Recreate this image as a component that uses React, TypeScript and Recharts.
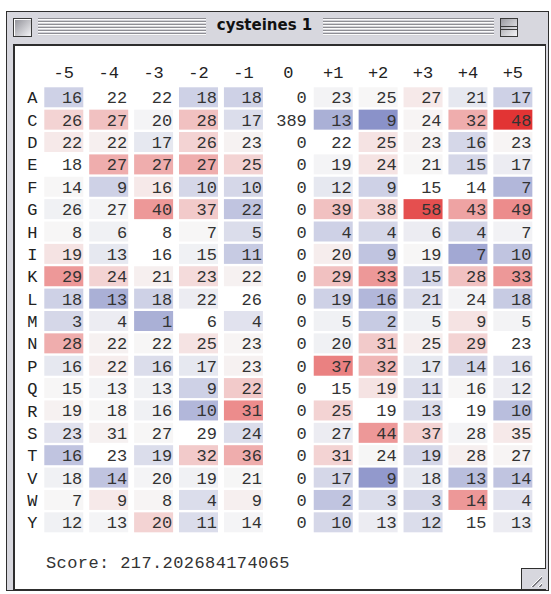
import React from 'react';
import { ScatterChart, Scatter, XAxis, YAxis } from 'recharts';

// Sequence positions relative to the cysteine, and residue rows
const positions = ['-5', '-4', '-3', '-2', '-1', '0', '+1', '+2', '+3', '+4', '+5'];
const residues = ['A', 'C', 'D', 'E', 'F', 'G', 'H', 'I', 'K', 'L', 'M', 'N', 'P', 'Q', 'R', 'S', 'T', 'V', 'W', 'Y'];

// Observed residue counts per position
const counts = [
  [16, 22, 22, 18, 18, 0, 23, 25, 27, 21, 17],
  [26, 27, 20, 28, 17, 389, 13, 9, 24, 32, 48],
  [22, 22, 17, 26, 23, 0, 22, 25, 23, 16, 23],
  [18, 27, 27, 27, 25, 0, 19, 24, 21, 15, 17],
  [14, 9, 16, 10, 10, 0, 12, 9, 15, 14, 7],
  [26, 27, 40, 37, 22, 0, 39, 38, 58, 43, 49],
  [8, 6, 8, 7, 5, 0, 4, 4, 6, 4, 7],
  [19, 13, 16, 15, 11, 0, 20, 9, 19, 7, 10],
  [29, 24, 21, 23, 22, 0, 29, 33, 15, 28, 33],
  [18, 13, 18, 22, 26, 0, 19, 16, 21, 24, 18],
  [3, 4, 1, 6, 4, 0, 5, 2, 5, 9, 5],
  [28, 22, 22, 25, 23, 0, 20, 31, 25, 29, 23],
  [16, 22, 16, 17, 23, 0, 37, 32, 17, 14, 16],
  [15, 13, 13, 9, 22, 0, 15, 19, 11, 16, 12],
  [19, 18, 16, 10, 31, 0, 25, 19, 13, 19, 10],
  [23, 31, 27, 29, 24, 0, 27, 44, 37, 28, 35],
  [16, 23, 19, 32, 36, 0, 31, 24, 19, 28, 27],
  [18, 14, 20, 19, 21, 0, 17, 9, 18, 13, 14],
  [7, 9, 8, 4, 9, 0, 2, 3, 3, 14, 4],
  [12, 13, 20, 11, 14, 0, 10, 13, 12, 15, 13],
];

// Over/under-representation per cell, -10 (blue) .. +10 (red)
const tints = [
  [-4, 0, 0, -4, -4, 0, -0.7, 0.3, 1.5, -2, -4],
  [3, 4, -0.5, 4, -3, 0, -6.5, -8.5, 0.5, 5, 10],
  [1.5, 1, -2, 3, 0.7, 0, 0, 2, 0.7, -3.5, 0.5],
  [0, 5, 5, 5, 3, 0, -0.5, 2, 0.3, -3.5, -1.5],
  [0.3, -4, 1.5, -3.5, -3.5, 0, -2, -4, 0, 0, -6],
  [-1, -0.5, 6, 3.5, -5, 0, 4, 3, 9, 5.5, 6.5],
  [0.3, -1, 0, 0.3, -3, 0, -4, -3.5, -1.5, -3.5, -0.8],
  [2, -2, 0, -1, -4.5, 0, 1.2, -5, 0.3, -7, -5],
  [6, 3, 1, 2.5, 0.8, 0, 4, 6, -3.5, 4, 6],
  [-4, -6.5, -4, -1.5, 0, 0, -4, -6, -3, -0.7, -4.5],
  [-3.5, -1.5, -6.5, 0, -2.5, 0, -1, -4.5, -1, 2, -0.7],
  [5, 0.8, 0.3, 2, 0.5, 0, -1, 3.5, 1.2, 3, 0],
  [-2, 1.2, -3, -2, 0.8, 0, 7, 4.5, -2, -3.5, -2.5],
  [0.3, -0.5, -1, -4, 3.5, 0, 0, 2, -3, 0.3, -1.5],
  [0.8, 0.3, -1, -6, 6.5, 0, 3, 0, -3, 0, -5.5],
  [-2.5, 0.8, 0.3, 0, -3, 0, -1.5, 6, 3, -0.5, 1.5],
  [-5, 0, -3, 3.5, 5, 0, 3, -0.3, -3.5, 1, 0.5],
  [-1, -5, -0.5, -1, -0.3, 0, -3.5, -8, -2, -5.5, -5],
  [0.3, 1.5, 0.5, -3, 1, 0, -5, -3, -3.5, 6, -2.5],
  [-1, -0.5, 3, -3, -0.5, 0, -3.5, -1.5, -3, 0, -1.5],
];

const score = '217.202684174065';

const cells = residues.flatMap((res, r) =>
  positions.map((pos, c) => ({ col: c, row: r, count: counts[r][c], tint: tints[r][c] }))
);

const MONO = '"Liberation Mono", "DejaVu Sans Mono", monospace';
const FRAME = '#d7d7de';
const EDGE = '#2e2e2e';

const NEUTRAL = [247, 247, 247];
const RED = [226, 52, 52];
const BLUE = [112, 122, 190];

function cellFill(t: number) {
  const end = t > 0 ? RED : BLUE;
  const f = Math.pow(Math.min(Math.abs(t), 10) / 10, t > 0 ? 1.4 : 1.3);
  const c = NEUTRAL.map((v, i) => Math.round(v + (end[i] - v) * f));
  return `rgb(${c[0]},${c[1]},${c[2]})`;
}

const CellShape = (props: any) => {
  const { cx, cy, payload } = props;
  const w = 39;
  const h = 20;
  return (
    <g>
      {payload.tint !== 0 && (
        <rect x={cx - w / 2} y={cy - h / 2} width={w} height={h} fill={cellFill(payload.tint)} />
      )}
      <text x={cx + 18.5} y={cy + 6} textAnchor="end" fontFamily={MONO} fontSize={17} fill="#333">
        {payload.count}
      </text>
    </g>
  );
};

const stripes = 'repeating-linear-gradient(180deg, #8e8e94 0px, #8e8e94 1px, #fbfbfb 1px, #fbfbfb 2px, #d2d2d8 2px, #d2d2d8 3px)';

export default function App() {
  return (
    <div style={{ position: 'absolute', left: 0, top: 0, width: 551, height: 594, background: '#fff', overflow: 'hidden' }}>
      {/* window frame */}
      <div style={{ position: 'absolute', left: 6, top: 11, width: 543, height: 580, boxSizing: 'border-box', border: `1px solid ${EDGE}`, background: FRAME }} />

      {/* close box */}
      <div style={{ position: 'absolute', left: 13, top: 18, width: 19, height: 19, boxSizing: 'border-box', border: `1px solid #3a3a3a`, background: 'linear-gradient(135deg, #8f8f96, #f4f4f7)', boxShadow: 'inset 1px 1px 0 #fff' }} />

      {/* title stripes */}
      <div style={{ position: 'absolute', left: 38, top: 18, width: 168, height: 18, background: stripes }} />
      <div style={{ position: 'absolute', left: 323, top: 18, width: 171, height: 18, background: stripes }} />
      <div style={{ position: 'absolute', left: 206, top: 16, width: 117, textAlign: 'center', fontFamily: '"DejaVu Sans", sans-serif', fontWeight: 'bold', fontSize: 15, lineHeight: '18px', color: '#111' }}>
        cysteines 1
      </div>

      {/* windowshade box */}
      <div style={{ position: 'absolute', left: 500, top: 18, width: 18, height: 19, boxSizing: 'border-box', border: `1px solid #3a3a3a`, background: 'linear-gradient(135deg, #9a9aa0, #f4f4f7)' }}>
        <div style={{ position: 'absolute', left: 0, right: 0, top: 7, height: 1, background: '#3a3a3a' }} />
        <div style={{ position: 'absolute', left: 0, right: 0, top: 10, height: 1, background: '#3a3a3a' }} />
      </div>

      {/* content area */}
      <div style={{ position: 'absolute', left: 13, top: 44, width: 533, height: 546, boxSizing: 'border-box', borderLeft: `2px solid ${EDGE}`, borderTop: `2px solid ${EDGE}`, borderRight: `1px solid ${EDGE}`, borderBottom: `1px solid ${EDGE}`, background: '#fff' }} />

      {/* grow box */}
      <div style={{ position: 'absolute', left: 521, top: 568, width: 25, height: 21, boxSizing: 'border-box', borderLeft: `1px solid ${EDGE}`, borderTop: `1px solid ${EDGE}`, background: FRAME }}>
        <div style={{ position: 'absolute', left: 5, top: 3, width: 15, height: 15, background: 'repeating-linear-gradient(135deg, transparent 0px, transparent 3px, #fff 3px, #fff 4px, #7a7a80 4px, #7a7a80 5px)', clipPath: 'polygon(100% 0, 100% 100%, 0 100%)' }} />
      </div>

      <div style={{ position: 'absolute', left: 0, top: 0 }}>
        <ScatterChart width={551} height={594} margin={{ top: 56, right: 15.7, bottom: 60.5, left: 11.35 }}>
          <XAxis
            type="number"
            dataKey="col"
            orientation="top"
            domain={[-0.5, 10.5]}
            ticks={positions.map((p, i) => i)}
            interval={0}
            tickFormatter={(i: number) => positions[i]}
            axisLine={false}
            tickLine={false}
            tickSize={0}
            tickMargin={8}
            height={30.1}
            tick={{ fill: '#222', fontSize: 17, fontFamily: MONO }}
          />
          <YAxis
            type="number"
            dataKey="row"
            reversed
            domain={[-0.5, 19.5]}
            ticks={residues.map((r, i) => i)}
            interval={0}
            tickFormatter={(i: number) => residues[i]}
            axisLine={false}
            tickLine={false}
            tickSize={0}
            tickMargin={4}
            width={30}
            tick={{ fill: '#222', fontSize: 17, fontFamily: MONO }}
          />
          <Scatter data={cells} shape={CellShape} isAnimationActive={false} />
        </ScatterChart>
      </div>

      <div style={{ position: 'absolute', left: 46, top: 553.5, fontFamily: MONO, fontSize: 17, lineHeight: '20px', letterSpacing: 0.4, color: '#333', whiteSpace: 'pre' }}>
        {`Score: ${score}`}
      </div>
    </div>
  );
}
